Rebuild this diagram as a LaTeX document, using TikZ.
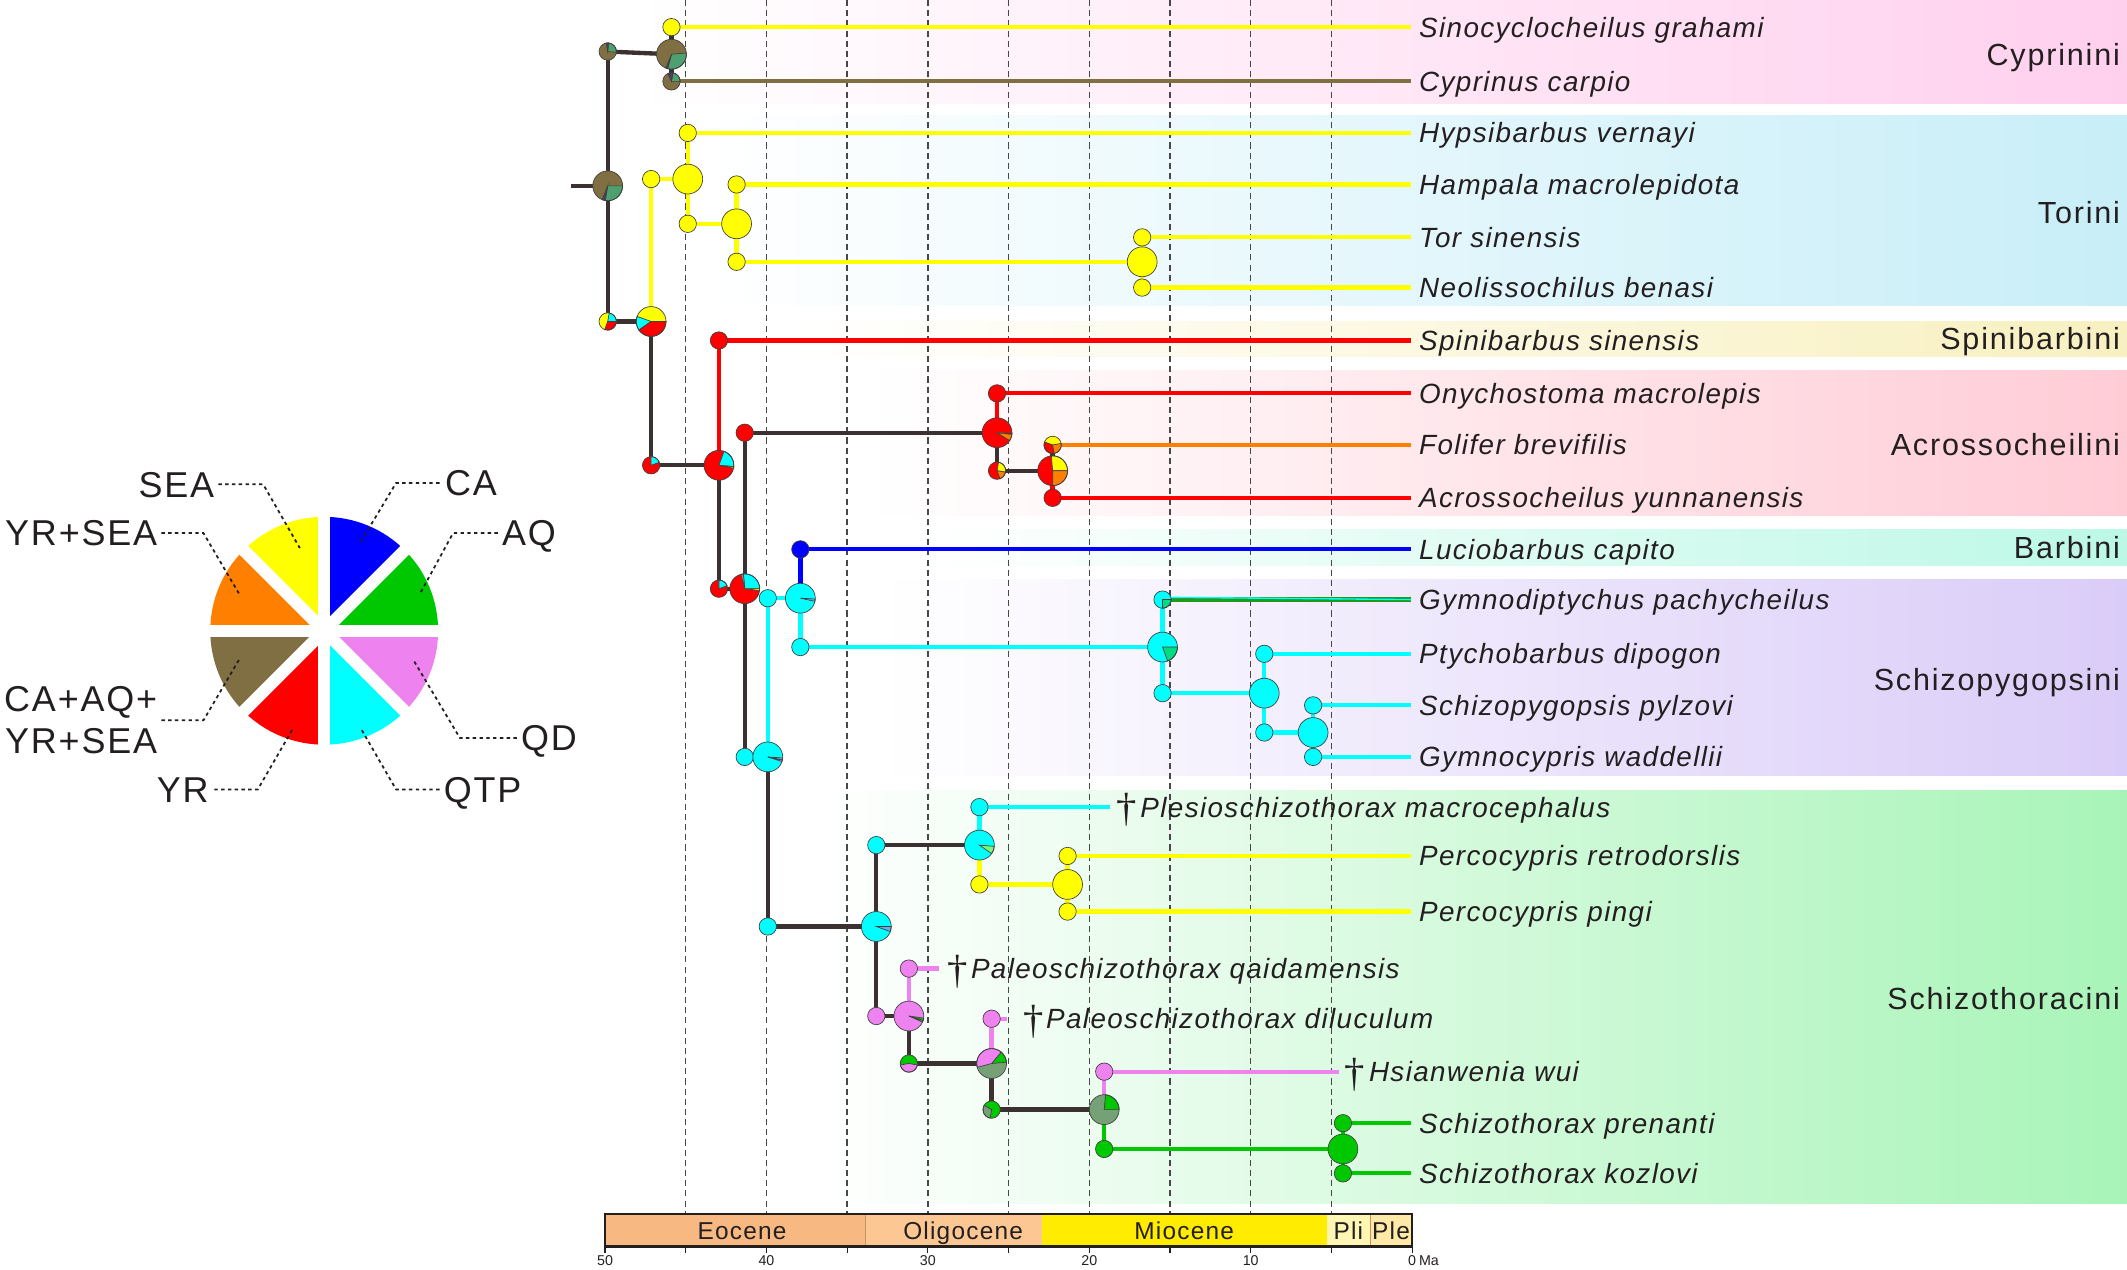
\documentclass[tikz,border=0pt]{standalone}
\usepackage{fontspec}
\setmainfont{Liberation Sans}
\newfontfamily\lsf[LetterSpace=5]{Liberation Sans}
\newfontfamily\clf[LetterSpace=6]{Liberation Sans}
\newfontfamily\dagf{Liberation Serif}
\definecolor{cBlue}{HTML}{0000FF}
\definecolor{cGreen}{HTML}{00C800}
\definecolor{cViolet}{HTML}{EE82EE}
\definecolor{cCyan}{HTML}{00FFFF}
\definecolor{cRed}{HTML}{FF0000}
\definecolor{cBrown}{HTML}{806F42}
\definecolor{cOrange}{HTML}{FF8000}
\definecolor{cYellow}{HTML}{FFFF00}
\definecolor{cSea}{HTML}{4DA070}
\definecolor{cSlate}{HTML}{4A4060}
\definecolor{cGray}{HTML}{909090}
\definecolor{cLBlue}{HTML}{5AB4F0}
\definecolor{cSpring}{HTML}{00DC82}
\definecolor{cLGreen}{HTML}{7CF87C}
\definecolor{cGG}{HTML}{76A076}
\definecolor{cDkGreen}{HTML}{1E9A1E}
\definecolor{cDark}{HTML}{3B3131}
\definecolor{cText}{HTML}{231F20}
\definecolor{bCyp}{HTML}{FFD0EE}
\definecolor{bTor}{HTML}{C8EEF8}
\definecolor{bSpi}{HTML}{F8F0C0}
\definecolor{bAcr}{HTML}{FFCCD6}
\definecolor{bBar}{HTML}{BCF8E6}
\definecolor{bSch}{HTML}{DACCF8}
\definecolor{bSzt}{HTML}{A8F4B8}
\definecolor{eEo}{HTML}{F8B882}
\definecolor{eOl}{HTML}{FCC792}
\definecolor{eMi}{HTML}{FFEC00}
\definecolor{ePl}{HTML}{FFF6B4}
\definecolor{ePle}{HTML}{FFE9A6}
\def\rs{6.4}
\def\rb{11}
\newcommand\spie[3]{\filldraw[fill=#3,pieedge] (#1) circle[radius=#2];}
\newcommand\mpie[4]{%
  \fill[#3] (#1) circle[radius=#2];
  \foreach \angA/\angB/\colC in {#4}{%
    \filldraw[fill=\colC,pieedge] (#1) -- ++(\angA:#2) arc[start angle=\angA,end angle=\angB,radius=#2] -- cycle;}
  \draw[pieedge] (#1) circle[radius=#2];}
\begin{document}
\begin{tikzpicture}[x=1pt,y=1pt,
  pieedge/.style={draw=black!75,line width=0.5pt},
  brline/.style={draw=cDark,line width=3.2pt},
  clrline/.style={draw=#1,line width=3.2pt},
  tipline/.style={draw=#1,line width=3.1pt},
  agegrid/.style={draw=black!72,line width=1pt,dash pattern=on 4.5pt off 3pt},
  spname/.style={anchor=west,inner sep=0pt,text=cText,font=\lsf\itshape\fontsize{20.5}{24}\selectfont,text height=14.7pt,text depth=0pt},
  clade/.style={anchor=east,inner sep=0pt,text=cText,font=\clf\fontsize{22.5}{26}\selectfont,text height=16pt,text depth=0pt},
  dagger/.style={inner sep=0pt,text=cText,font=\dagf\fontsize{30}{32}\selectfont},
  legtext/.style={inner sep=0pt,text=cText,font=\lsf\fontsize{26.5}{31}\selectfont,text height=19pt,text depth=0pt},
  leaderline/.style={draw=cText,line width=1.3pt,dash pattern=on 2.5pt off 2.5pt},
  epoch/.style={inner sep=0pt,text=cText,font=\lsf\fontsize{18}{20}\selectfont,text height=13pt,text depth=0pt},
  agenum/.style={inner sep=0pt,text=cText,font=\fontsize{10.5}{12}\selectfont,anchor=base}
]
\useasboundingbox (0,0) rectangle (1568,-936);
% ---------- clade bands ----------
\shade[left color=white,middle color=bCyp!42!white,right color=bCyp] (470,0) rectangle (1568,-76);
\shade[left color=white,middle color=bTor!42!white,right color=bTor] (520,-85) rectangle (1568,-225);
\shade[left color=white,middle color=bSpi!42!white,right color=bSpi] (580,-237) rectangle (1568,-263);
\shade[left color=white,middle color=bAcr!42!white,right color=bAcr] (640,-273) rectangle (1568,-380);
\shade[left color=white,middle color=bBar!42!white,right color=bBar] (680,-390) rectangle (1568,-417);
\shade[left color=white,middle color=bSch!42!white,right color=bSch] (650,-427) rectangle (1568,-572);
\shade[left color=white,middle color=bSzt!42!white,right color=bSzt] (600,-583) rectangle (1568,-887);
% ---------- age grid ----------
\foreach \m in {45,40,...,5} {\draw[agegrid] ({446+(50-\m)*11.9},0) -- ({446+(50-\m)*11.9},-895);}
% ---------- time scale ----------
\fill[eEo] (446,-895) rectangle (638,-919);
\fill[eOl] (638,-895) rectangle (768,-919);
\fill[eMi] (768,-895) rectangle (978,-919);
\fill[ePl] (978,-895) rectangle (1010,-919);
\fill[ePle] (1010,-895) rectangle (1041,-919);
\draw[draw=eEo!80!black,line width=0.6pt] (638,-895) -- (638,-919) (1010,-895) -- (1010,-919);
\draw[cText,line width=2pt] (446,-895) rectangle (1041,-919);
\node[epoch] (epEo) at (547,-907) {Eocene};
\node[epoch] (epOl) at (710,-907) {Oligocene};
\node[epoch] (epMi) at (873,-907) {Miocene};
\node[epoch] (epPl) at (994,-907) {Pli};
\node[epoch] (epPle) at (1025.5,-907) {Ple};
\foreach \m in {50,45,...,0} {\draw[cText,line width=0.8pt] ({446+(50-\m)*11.9},-919) -- ({446+(50-\m)*11.9},-924);}
\foreach \m in {50,40,30,20,10} {\node[agenum] at ({446+(50-\m)*11.9},-933) {\m};}
\node[agenum] (ageZero) at (1041,-933) {0};
\node[agenum,anchor=base west] (ageMa) at (ageZero.base east) {\,Ma};
% ---------- legend ----------
\coordinate (L) at (239,-465);
\fill[cBlue] (L) -- ++(90:84) arc[start angle=90,end angle=45,radius=84] -- cycle;
\fill[cGreen] (L) -- ++(45:84) arc[start angle=45,end angle=0,radius=84] -- cycle;
\fill[cViolet] (L) -- ++(0:84) arc[start angle=0,end angle=-45,radius=84] -- cycle;
\fill[cCyan] (L) -- ++(-45:84) arc[start angle=-45,end angle=-90,radius=84] -- cycle;
\fill[cRed] (L) -- ++(-90:84) arc[start angle=-90,end angle=-135,radius=84] -- cycle;
\fill[cBrown] (L) -- ++(-135:84) arc[start angle=-135,end angle=-180,radius=84] -- cycle;
\fill[cOrange] (L) -- ++(180:84) arc[start angle=180,end angle=135,radius=84] -- cycle;
\fill[cYellow] (L) -- ++(135:84) arc[start angle=135,end angle=90,radius=84] -- cycle;
\foreach \g in {0,45,90,135} {\draw[white,line width=9pt] (L) ++(\g:92) -- ++(\g+180:184);}
\node[legtext,anchor=east] (lSEA) at (158,-357) {SEA};
\node[legtext,anchor=east] (lYRSEA) at (116,-393) {YR+SEA};
\node[legtext,anchor=west] (lCA) at (328,-356) {CA};
\node[legtext,anchor=west] (lAQ) at (370,-393) {AQ};
\node[inner sep=0pt,text=cText,font=\lsf\fontsize{26.5}{31}\selectfont,align=right,anchor=east] (lALL) at (116,-531) {CA+AQ+\\YR+SEA};
\node[legtext,anchor=east] (lYR) at (154,-582) {YR};
\node[legtext,anchor=west] (lQTP) at (327,-582) {QTP};
\node[legtext,anchor=west] (lQD) at (384,-544) {QD};
\coordinate (kSEA) at (221,-404);
\coordinate (kYRSEA) at (177,-439);
\coordinate (kCA) at (265,-401);
\coordinate (kAQ) at (310,-437);
\coordinate (kALL) at (177,-485);
\coordinate (kYR) at (216,-537);
\coordinate (kQTP) at (266,-537);
\coordinate (kQD) at (305,-487);
\draw[leaderline] (lSEA.east) ++(3,0) -- ++(33,0) -- (kSEA);
\draw[leaderline] (lYRSEA.east) ++(3,0) -- ++(31,0) -- (kYRSEA);
\draw[leaderline] (lCA.west) ++(-4,0) -- ++(-32,0) -- (kCA);
\draw[leaderline] (lAQ.west) ++(-3,0) -- ++(-33,0) -- (kAQ);
\draw[leaderline] (lALL.east) ++(3,0) -- ++(31,0) -- (kALL);
\draw[leaderline] (lYR.east) ++(4,0) -- ++(32,0) -- (kYR);
\draw[leaderline] (lQTP.west) ++(-3,0) -- ++(-32,0) -- (kQTP);
\draw[leaderline] (lQD.west) ++(-3,0) -- ++(-42,0) -- (kQD);
% ---------- tree node positions ----------
\coordinate (xend) at (1040,0);
\coordinate (xlab) at (1046,0);
\coordinate (rootstub) at (421,-137);
\coordinate (R) at (448,-137);
\coordinate (Ru) at (448,-38);
\coordinate (Cb) at (495,-40);
\coordinate (C1) at (495,-20);
\coordinate (C2) at (495,-60);
\coordinate (Rd) at (448,-237);
\coordinate (T0) at (480,-237);
\coordinate (Ty) at (480,-132);
\coordinate (Tb1) at (507,-132);
\coordinate (T1) at (507,-98);
\coordinate (T2) at (507,-165);
\coordinate (Tb2) at (543,-165);
\coordinate (T3) at (543,-136);
\coordinate (T4) at (543,-193);
\coordinate (Tb3) at (842,-193);
\coordinate (T5) at (842,-175);
\coordinate (T6) at (842,-212);
\coordinate (A0s) at (480,-343);
\coordinate (A0) at (530,-343);
\coordinate (S1) at (530,-251);
\coordinate (B0s) at (530,-434);
\coordinate (B0) at (549,-434);
\coordinate (Ac0s) at (549,-319);
\coordinate (Ac0) at (735,-319);
\coordinate (Ac1) at (735,-290);
\coordinate (Ac2s) at (735,-347);
\coordinate (Ac2) at (776,-347);
\coordinate (Ac3) at (776,-328);
\coordinate (Ac4) at (776,-367);
\coordinate (Sz0s) at (549,-558);
\coordinate (Sz0) at (566,-558);
\coordinate (Bs) at (566,-441);
\coordinate (Bb) at (590,-441);
\coordinate (Ba) at (590,-405);
\coordinate (Sp0s) at (590,-477);
\coordinate (Sp0) at (857,-477);
\coordinate (G1) at (857,-442);
\coordinate (Sp1s) at (857,-511);
\coordinate (Sp1) at (932,-511);
\coordinate (P1) at (932,-482);
\coordinate (Sp2s) at (932,-540);
\coordinate (Sp2) at (968,-540);
\coordinate (P2) at (968,-520);
\coordinate (P3) at (968,-558);
\coordinate (Sc0s) at (566,-683);
\coordinate (Sc0) at (646,-683);
\coordinate (Sc1s) at (646,-623);
\coordinate (Sc1) at (722,-623);
\coordinate (Pl) at (722,-595);
\coordinate (Pcs) at (722,-652);
\coordinate (Pc) at (787,-652);
\coordinate (Pc1) at (787,-631);
\coordinate (Pc2) at (787,-672);
\coordinate (Q0s) at (646,-749);
\coordinate (Q0) at (670,-749);
\coordinate (Q1) at (670,-714);
\coordinate (D0s) at (670,-784);
\coordinate (D0) at (731,-784);
\coordinate (D1) at (731,-751);
\coordinate (H0s) at (731,-818);
\coordinate (H0) at (814,-818);
\coordinate (Hw) at (814,-790);
\coordinate (Sx0s) at (814,-847);
\coordinate (Sx0) at (990,-847);
\coordinate (Sx1) at (990,-828);
\coordinate (Sx2) at (990,-865);
\coordinate (Ple) at (818,-595);
\coordinate (Q1e) at (692,-714);
\coordinate (D1e) at (742,-751);
\coordinate (Hwe) at (987,-790);
% ---------- branches ----------
\draw[brline] (rootstub) -- (R);
\draw[brline] (Ru) -- (Rd);
\draw[brline] (Ru) -- (Cb);
\draw[brline] (C1) -- (C2);
\draw[brline] (Rd) -- (T0);
\draw[clrline=cYellow] (Ty) -- (T0);
\draw[clrline=cYellow] (Ty) -- (Tb1);
\draw[clrline=cYellow] (T1) -- (T2);
\draw[clrline=cYellow] (T2) -- (Tb2);
\draw[clrline=cYellow] (T3) -- (T4);
\draw[clrline=cYellow] (T4) -- (Tb3);
\draw[clrline=cYellow] (T5) -- (T6);
\draw[brline] (T0) -- (A0s);
\draw[brline] (A0s) -- (A0);
\draw[clrline=cRed] (S1) -- (A0);
\draw[brline] (A0) -- (B0s);
\draw[brline] (B0s) -- (B0);
\draw[brline] (Ac0s) -- (Sz0s);
\draw[brline] (Ac0s) -- (Ac0);
\draw[clrline=cRed] (Ac1) -- (Ac0);
\draw[brline] (Ac0) -- (Ac2s);
\draw[brline] (Ac2s) -- (Ac2);
\draw[brline] (Ac3) -- (Ac2);
\draw[clrline=cRed] (Ac2) -- (Ac4);
\draw[brline] (Sz0s) -- (Sz0);
\draw[clrline=cCyan] (Bs) -- (Sz0);
\draw[brline] (Sz0) -- (Sc0s);
\draw[clrline=cCyan] (Bs) -- (Bb);
\draw[clrline=cBlue] (Ba) -- (Bb);
\draw[clrline=cCyan] (Bb) -- (Sp0s);
\draw[clrline=cCyan] (Sp0s) -- (Sp0);
\draw[clrline=cCyan] (G1) -- (Sp1s);
\draw[clrline=cCyan] (Sp1s) -- (Sp1);
\draw[clrline=cCyan] (P1) -- (Sp2s);
\draw[clrline=cCyan] (Sp2s) -- (Sp2);
\draw[clrline=cCyan] (P2) -- (P3);
\draw[brline] (Sc0s) -- (Sc0);
\draw[brline] (Sc1s) -- (Q0s);
\draw[brline] (Sc1s) -- (Sc1);
\draw[clrline=cCyan] (Pl) -- (Sc1);
\draw[clrline=cYellow] (Sc1) -- (Pcs);
\draw[clrline=cYellow] (Pcs) -- (Pc);
\draw[clrline=cYellow] (Pc1) -- (Pc2);
\draw[brline] (Q0s) -- (Q0);
\draw[clrline=cViolet] (Q1) -- (Q0);
\draw[brline] (Q0) -- (D0s);
\draw[brline] (D0s) -- (D0);
\draw[clrline=cViolet] (D1) -- (D0);
\draw[brline] (D0) -- (H0s);
\draw[brline] (H0s) -- (H0);
\draw[clrline=cViolet] (Hw) -- (H0);
\draw[clrline=cGreen] (H0) -- (Sx0s);
\draw[clrline=cGreen] (Sx0s) -- (Sx0);
\draw[clrline=cGreen] (Sx1) -- (Sx2);
% ---------- tip lines ----------
\foreach \n/\col in {C1/cYellow,C2/cBrown,T1/cYellow,T3/cYellow,T5/cYellow,T6/cYellow,S1/cRed,Ac1/cRed,Ac3/cOrange,Ac4/cRed,Ba/cBlue,P1/cCyan,P2/cCyan,P3/cCyan,Pc1/cYellow,Pc2/cYellow,Sx1/cGreen,Sx2/cGreen}
  {\draw[tipline=\col] (\n) -- (\n -| xend);}
\draw[tipline=cDkGreen,line width=3.2pt] (G1) -- (G1 -| xend);
\draw[draw=cCyan,line width=1pt] (G1) ++(0,1.7) -- (G1 -| xend) ++(0,1.7);
\draw[tipline=cCyan] (Pl) -- (Ple);
\draw[tipline=cViolet] (Q1) -- (Q1e);
\draw[tipline=cViolet] (D1) -- (D1e);
\draw[tipline=cViolet] (Hw) -- (Hwe);
% ---------- pies ----------
\mpie{R}{\rb}{cBrown}{-100/0/cSea,-112/-100/cSlate}
\mpie{Ru}{\rs}{cBrown}{-5/85/cSea,85/100/cSlate}
\mpie{Cb}{\rb}{cBrown}{-105/5/cSea,-112/-105/cSlate}
\spie{C1}{\rs}{cYellow}
\mpie{C2}{\rs}{cBrown}{0/80/cSea,80/115/cSlate}
\mpie{Rd}{\rs}{cYellow}{0/80/cCyan,-110/0/cRed}
\mpie{T0}{\rb}{cYellow}{160/215/cCyan,215/360/cRed}
\spie{Ty}{\rs}{cYellow}
\spie{Tb1}{\rb}{cYellow}
\spie{T1}{\rs}{cYellow}
\spie{T2}{\rs}{cYellow}
\spie{Tb2}{\rb}{cYellow}
\spie{T3}{\rs}{cYellow}
\spie{T4}{\rs}{cYellow}
\spie{Tb3}{\rb}{cYellow}
\spie{T5}{\rs}{cYellow}
\spie{T6}{\rs}{cYellow}
\mpie{A0s}{\rs}{cRed}{20/90/cCyan}
\mpie{A0}{\rb}{cRed}{-5/70/cCyan,-11/-5/cYellow}
\spie{S1}{\rs}{cRed}
\mpie{B0s}{\rs}{cRed}{20/90/cCyan}
\mpie{B0}{\rb}{cRed}{0/95/cCyan,95/105/cGray,-8/0/cYellow}
\spie{Ac0s}{\rs}{cRed}
\mpie{Ac0}{\rb}{cRed}{-32/-6/cOrange,-6/-2/cYellow}
\spie{Ac1}{\rs}{cRed}
\mpie{Ac2s}{\rs}{cRed}{-10/80/cYellow,-70/-10/cOrange}
\mpie{Ac2}{\rb}{cRed}{0/95/cYellow,-90/0/cOrange}
\mpie{Ac3}{\rs}{cYellow}{160/280/cRed,-80/10/cOrange}
\spie{Ac4}{\rs}{cRed}
\spie{Sz0s}{\rs}{cCyan}
\mpie{Sz0}{\rb}{cCyan}{-12/-4/cLBlue,-18/-12/cViolet}
\spie{Bs}{\rs}{cCyan}
\mpie{Bb}{\rb}{cCyan}{-12/-3/cLBlue}
\spie{Ba}{\rs}{cBlue}
\spie{Sp0s}{\rs}{cCyan}
\mpie{Sp0}{\rb}{cCyan}{-70/0/cSpring}
\mpie{G1}{\rs}{cCyan}{-90/0/cSpring}
\spie{Sp1s}{\rs}{cCyan}
\spie{Sp1}{\rb}{cCyan}
\spie{P1}{\rs}{cCyan}
\spie{Sp2s}{\rs}{cCyan}
\spie{Sp2}{\rb}{cCyan}
\spie{P2}{\rs}{cCyan}
\spie{P3}{\rs}{cCyan}
\spie{Sc0s}{\rs}{cCyan}
\mpie{Sc0}{\rb}{cCyan}{-20/0/cLBlue}
\spie{Sc1s}{\rs}{cCyan}
\mpie{Sc1}{\rb}{cCyan}{-35/-5/cLGreen}
\spie{Pl}{\rs}{cCyan}
\spie{Pcs}{\rs}{cYellow}
\spie{Pc}{\rb}{cYellow}
\spie{Pc1}{\rs}{cYellow}
\spie{Pc2}{\rs}{cYellow}
\spie{Q0s}{\rs}{cViolet}
\mpie{Q0}{\rb}{cViolet}{-18/-8/cGreen,-24/-18/cGG}
\spie{Q1}{\rs}{cViolet}
\mpie{D0s}{\rs}{cGreen}{190/350/cViolet}
\mpie{D0}{\rb}{cGG}{5/50/cGreen,50/195/cViolet}
\spie{D1}{\rs}{cViolet}
\mpie{H0s}{\rs}{cGreen}{150/260/cGG}
\mpie{H0}{\rb}{cGG}{0/85/cGreen}
\spie{Hw}{\rs}{cViolet}
\spie{Sx0s}{\rs}{cGreen}
\spie{Sx0}{\rb}{cGreen}
\spie{Sx1}{\rs}{cGreen}
\spie{Sx2}{\rs}{cGreen}
% ---------- tip labels ----------
\foreach \n/\t in {C1/Sinocyclocheilus grahami,C2/Cyprinus carpio,T1/Hypsibarbus vernayi,T3/Hampala macrolepidota,T5/Tor sinensis,T6/Neolissochilus benasi,S1/Spinibarbus sinensis,Ac1/Onychostoma macrolepis,Ac3/Folifer brevifilis,Ac4/Acrossocheilus yunnanensis,Ba/Luciobarbus capito,G1/Gymnodiptychus pachycheilus,P1/Ptychobarbus dipogon,P2/Schizopygopsis pylzovi,P3/Gymnocypris waddellii,Pc1/Percocypris retrodorslis,Pc2/Percocypris pingi,Sx1/Schizothorax prenanti,Sx2/Schizothorax kozlovi}
  {\node[spname] (lab\n) at (\n -| xlab) {\t};}
\node[dagger] (dPl) at (830.5,-597) {†};
\node[spname] (labPl) at (840.5,-595) {Plesioschizothorax macrocephalus};
\node[dagger] (dQ1) at (705.7,-716) {†};
\node[spname] (labQ1) at (715.6,-714) {Paleoschizothorax qaidamensis};
\node[dagger] (dD1) at (762,-753) {†};
\node[spname] (labD1) at (771,-751) {Paleoschizothorax diluculum};
\node[dagger] (dHw) at (999,-792) {†};
\node[spname] (labHw) at (1009,-790) {Hsianwenia wui};
% ---------- clade labels ----------
\node[clade] (kCyp) at (1563,-40) {Cyprinini};
\node[clade] (kTor) at (1563,-157) {Torini};
\node[clade] (kSpi) at (1563,-250) {Spinibarbini};
\node[clade] (kAcr) at (1563,-328) {Acrossocheilini};
\node[clade] (kBar) at (1563,-404) {Barbini};
\node[clade] (kSch) at (1563,-501) {Schizopygopsini};
\node[clade] (kSzt) at (1563,-736) {Schizothoracini};
\end{tikzpicture}
\end{document}
